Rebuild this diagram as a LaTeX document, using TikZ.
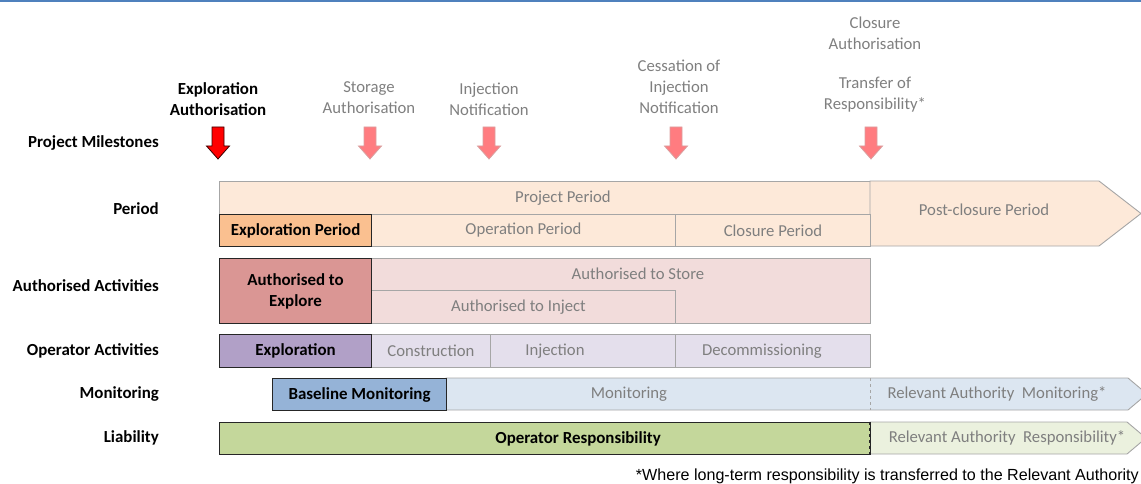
\documentclass[tikz,border=0pt]{standalone}
\usepackage{fontspec}
\setmainfont{Carlito}
\newfontfamily\arialfont{Liberation Sans}
\definecolor{topblue}{HTML}{4F81BD}
\definecolor{txtgray}{HTML}{7F7F7F}
\definecolor{bdgray}{HTML}{A6A6A6}
\definecolor{darkbd}{HTML}{262626}
\definecolor{periodlight}{HTML}{FDE9D9}
\definecolor{perioddark}{HTML}{FAC090}
\definecolor{authlight}{HTML}{F2DCDB}
\definecolor{authdark}{HTML}{DA9694}
\definecolor{oplight}{HTML}{E4DFEC}
\definecolor{opdark}{HTML}{B1A0C7}
\definecolor{monlight}{HTML}{DCE6F1}
\definecolor{mondark}{HTML}{95B3D7}
\definecolor{liadark}{HTML}{C4D79B}
\definecolor{lialight}{HTML}{EBF1DE}
\definecolor{msred}{HTML}{FF0000}
\definecolor{msredbd}{HTML}{3A0000}
\definecolor{mspink}{HTML}{FF7C80}
\definecolor{mspinkbd}{HTML}{D9A0A0}
\newcommand{\bx}[7]{\node[#6, minimum width=#4pt-#2pt, minimum height=#5pt-#3pt, anchor=north west] (#1) at (#2,#3) {#7};}
\newcommand{\msarrow}[4]{%
  \draw[fill=#2, draw=#3, line width=0.8pt, line join=miter]
    (#1-6,127) -- (#1+6,127) -- (#1+6,146) -- (#1+11.5,146) -- (#1,159) -- (#1-11.5,146) -- (#1-6,146) -- cycle;
  \coordinate (#4) at (#1,159);}
\tikzset{
  txt/.style={font=\fontsize{16.7}{21}\selectfont},
  bold/.style={font=\fontsize{16.9}{21}\selectfont\bfseries},
  rowlab/.style={bold, anchor=east, text=black, inner sep=0pt},
  mslab/.style={txt, align=center, text=txtgray, inner sep=0pt},
  lightbox/.style={draw=bdgray, line width=0.9pt, inner sep=0pt, txt, text=txtgray, align=center},
  darkbox/.style={draw=darkbd, line width=1.1pt, inner sep=0pt, bold, text=black, align=center},
}
\begin{document}
\begin{tikzpicture}[x=1pt, y=-1pt]
\useasboundingbox (0,0) rectangle (1141,484);
\clip (0,0) rectangle (1141,484);
\draw[topblue, line width=1.6pt] (0,1) -- (1141,1);

% row labels
\node[rowlab] (lmile) at (159,143) {Project Milestones};
\node[rowlab] (lper) at (159,209) {Period};
\node[rowlab] (lauth) at (159,286) {Authorised Activities};
\node[rowlab] (lop) at (159,351) {Operator Activities};
\node[rowlab] (lmon) at (159,394) {Monitoring};
\node[rowlab] (llia) at (159,438) {Liability};

% milestone labels
\node[mslab, bold, text=black] (mexp) at (218,99.5) {Exploration\\Authorisation};
\node[mslab] (msto) at (369,98) {Storage\\Authorisation};
\node[mslab] (minj) at (489,99.5) {Injection\\Notification};
\node[mslab] (mces) at (679,86.5) {Cessation of\\Injection\\Notification};
\node[mslab] (mclo) at (875,33) {Closure\\Authorisation};
\node[mslab] (mtra) at (875,95) {Transfer of\\Responsibility*};

% milestone arrows
\msarrow{218}{msred}{msredbd}{a1}
\msarrow{370}{mspink}{mspinkbd}{a2}
\msarrow{489}{mspink}{mspinkbd}{a3}
\msarrow{676}{mspink}{mspinkbd}{a4}
\msarrow{871}{mspink}{mspinkbd}{a5}

% Period row
\bx{pp}{219}{181}{870}{214}{lightbox, fill=periodlight}{\hspace*{36pt}Project Period}
\draw[fill=periodlight, draw=bdgray, line width=0.9pt, line join=miter]
  (870,181) -- (1099,181) -- (1141,213.5) -- (1099,246) -- (870,246) -- cycle;
\node[txt, text=txtgray] (post) at (984,210) {Post-closure Period};
\bx{opp}{371}{214}{675}{246}{lightbox, fill=periodlight}{Operation Period}
\bx{clp}{675}{214}{870}{246}{lightbox, fill=periodlight}{Closure Period}
\bx{exp}{219}{214}{371}{246}{darkbox, fill=perioddark}{Exploration Period}

% Authorised row
\bx{ast}{371}{258}{870}{323}{lightbox, fill=authlight, label={[txt, text=txtgray, yshift=17.5pt, xshift=17pt]center:Authorised to Store}}{}
\bx{ainj}{371}{290}{675}{323}{lightbox, fill=authlight}{\hspace*{-10pt}Authorised to Inject}
\bx{aexp}{219}{258}{371}{323}{darkbox, fill=authdark}{Authorised to\\Explore}

% Operator row
\bx{ocon}{371}{334}{490}{367}{lightbox, fill=oplight}{Construction}
\bx{oinj}{490}{334}{675}{367}{lightbox, fill=oplight}{\hspace*{-56pt}Injection}
\bx{odec}{675}{334}{870}{367}{lightbox, fill=oplight}{\hspace*{-22pt}Decommissioning}
\bx{oexp}{219}{334}{371}{367}{darkbox, fill=opdark}{Exploration}

% Monitoring row
\draw[fill=monlight, draw=bdgray, line width=0.9pt, line join=miter]
  (446,378) -- (1128,378) -- (1147,394) -- (1128,410) -- (446,410) -- cycle;
\draw[bdgray, dashed, line width=0.9pt] (870,378) -- (870,410);
\node[txt, text=txtgray] (mmon) at (629,394) {Monitoring};
\node[txt, text=txtgray] (mra) at (997,394) {Relevant Authority\ \ Monitoring*};
\bx{mbase}{272}{378}{446}{410}{darkbox, fill=mondark}{Baseline Monitoring}

% Liability row
\draw[fill=lialight, draw=bdgray, line width=0.9pt, line join=miter]
  (870,422) -- (1127,422) -- (1146,438) -- (1127,454) -- (870,454) -- cycle;
\bx{lop}{219}{422}{870}{454}{darkbox, fill=liadark}{\hspace*{66pt}Operator Responsibility}
\draw[darkbd, dashed, line width=1.1pt] (870,422) -- (870,454);
\node[txt, text=txtgray] (lra) at (1007,438) {Relevant Authority\ \ Responsibility*};

% footnote
\node[anchor=east, inner sep=0pt, font=\arialfont\fontsize{16.1}{18}\selectfont] (fn) at (1139,476) {*Where long-term responsibility is transferred to the Relevant Authority};
\end{tikzpicture}
\end{document}
